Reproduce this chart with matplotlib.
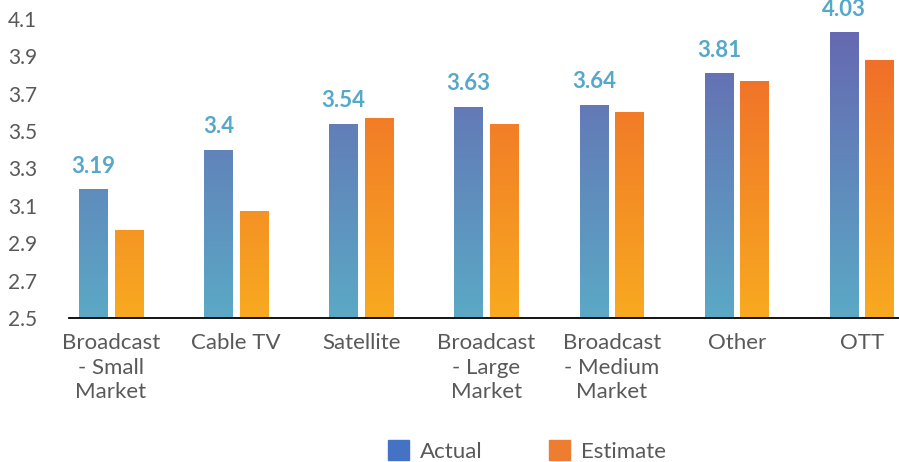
import numpy as np
import matplotlib
matplotlib.use("Agg")
import matplotlib.pyplot as plt
from matplotlib.colors import LinearSegmentedColormap

categories = ["Broadcast\n- Small\nMarket", "Cable TV", "Satellite",
              "Broadcast\n- Large\nMarket", "Broadcast\n- Medium\nMarket",
              "Other", "OTT"]
actual = [3.19, 3.40, 3.54, 3.63, 3.64, 3.81, 4.03]
estimate = [2.97, 3.07, 3.57, 3.54, 3.60, 3.77, 3.88]
yticks = [2.5, 2.7, 2.9, 3.1, 3.3, 3.5, 3.7, 3.9, 4.1]

plt.rcParams['font.family'] = ['Lato', 'DejaVu Sans']

fig = plt.figure(figsize=(8.99, 4.62), dpi=100)
ax = fig.add_axes([69 / 899, 1 - 318 / 462, 1 - 69 / 899, (318 - 19) / 462])

ymin, ymax = 2.5, 4.1
ax.set_ylim(ymin, ymax)
ax.set_xlim(-0.336, 6.296)

width = 0.228
offset = 0.142
x = np.arange(len(categories))

# vertical gradients, top colour first
cmap_actual = LinearSegmentedColormap.from_list("act", ["#5ba9c6", "#6666b0"])
cmap_est = LinearSegmentedColormap.from_list("est", ["#f8aa20", "#ef662b"])
grad = np.linspace(0, 1, 256).reshape(-1, 1)


def gradient_bars(xs, values, cmap):
    bars = ax.bar(xs, [v - ymin for v in values], width, bottom=ymin,
                  color="none", edgecolor="none", zorder=2)
    for b in bars:
        x0 = b.get_x()
        im = ax.imshow(grad, cmap=cmap, origin="lower", aspect="auto",
                       extent=[x0, x0 + width, ymin, ymax], zorder=1.5,
                       interpolation="bicubic")
        im.set_clip_path(b)
    return bars


gradient_bars(x - offset, actual, cmap_actual)
gradient_bars(x + offset, estimate, cmap_est)

for xi, v in zip(x - offset, actual):
    ax.annotate(f"{v:g}", (xi, v), xytext=(0, 9), textcoords="offset points",
                ha="center", va="bottom", color="#55a8c9", fontsize=16,
                fontweight="bold")

for s in ["top", "right", "left"]:
    ax.spines[s].set_visible(False)
ax.spines["bottom"].set_color("black")
ax.spines["bottom"].set_linewidth(1.3)

ax.set_yticks(yticks)
ax.set_yticklabels([f"{t:.1f}" for t in yticks])
ax.tick_params(axis="y", length=0, pad=23, labelsize=15, labelcolor="#595959")
ax.set_xticks(x)
ax.set_xticklabels(categories, linespacing=1.27)
ax.tick_params(axis="x", length=0, pad=11, labelsize=16, labelcolor="#595959")

# legend
handles = [plt.Rectangle((0, 0), 1, 1, color="#4472c4"),
           plt.Rectangle((0, 0), 1, 1, color="#ed7d31")]
leg = fig.legend(handles, ["Actual", "Estimate"], loc="center",
                 bbox_to_anchor=(527 / 899, 1 - 451 / 462), ncol=2,
                 frameon=False, fontsize=16, handlelength=0.95,
                 handleheight=0.95, columnspacing=3.0, handletextpad=0.5)
for t in leg.get_texts():
    t.set_color("#595959")

fig.savefig("out.png", dpi=100)
